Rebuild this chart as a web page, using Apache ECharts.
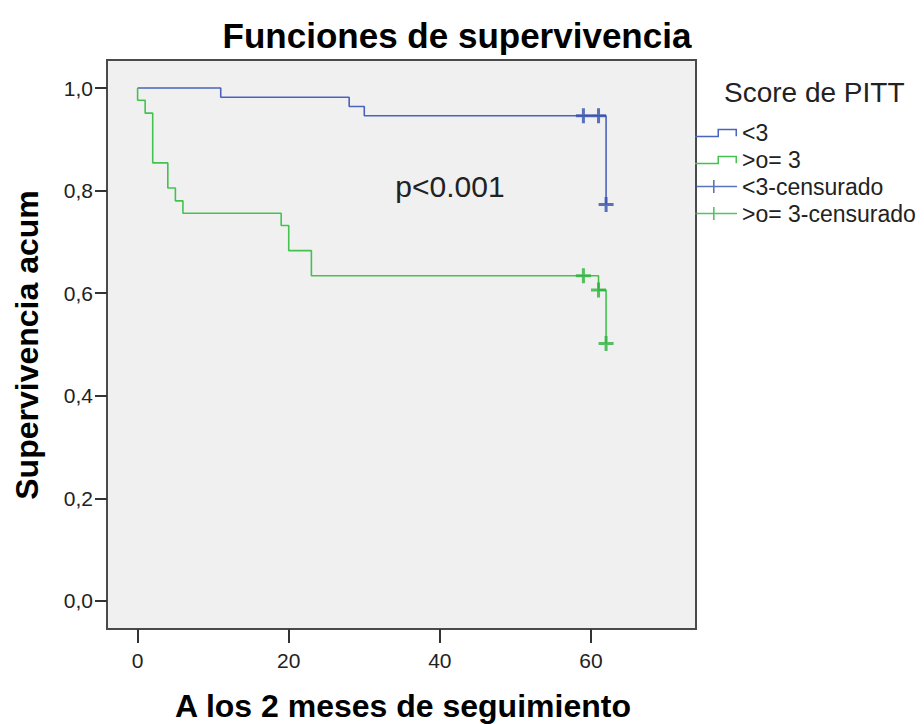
<!DOCTYPE html>
<html>
<head>
<meta charset="utf-8">
<script src="https://cdn.jsdelivr.net/npm/echarts@6/dist/echarts.min.js"></script>
<style>html,body{margin:0;padding:0;background:#fff;}#c{width:924px;height:724px;}</style>
</head>
<body>
<div id="c"></div>
<script>
// Score de PITT < 3
const timesLow = [0, 11, 28, 30, 62];
const survLow = [1.0, 0.982, 0.964, 0.946, 0.773];
const censTimesLow = [59, 61, 62];
const censSurvLow = [0.946, 0.946, 0.773];
// Score de PITT >= 3
const timesHigh = [0, 0, 1, 2, 4, 5, 6, 19, 20, 23, 61, 62];
const survHigh = [1.0, 0.976, 0.951, 0.854, 0.805, 0.780, 0.756, 0.732, 0.683, 0.634, 0.606, 0.502];
const censTimesHigh = [59, 61, 62];
const censSurvHigh = [0.634, 0.606, 0.502];

const seriesNames = ['<3', '>o= 3', '<3-censurado', '>o= 3-censurado'];
const xTicks = [0, 20, 40, 60];
const yTicks = [0, 0.2, 0.4, 0.6, 0.8, 1.0];
const yTickLabels = ['0,0', '0,2', '0,4', '0,6', '0,8', '1,0'];

const zip = (a, b) => a.map((v, i) => [v, b[i]]);

const BLUE = '#4a63bd', BLUE_D = '#3350ad';
const GREEN = '#44c250', GREEN_D = '#2db23c';
const FONT = 'Liberation Sans, Arial, sans-serif';
const plusPath = 'path://M6,0h3v15h-3z M0,6h15v3h-15z';
const stepIcon = 'path://M0,0L0.01,0Z M44,14L44.01,14Z M2,10.25h24v1.5h-24z M24.5,3.25h1.5v8.5h-1.5z M24.5,3.25h19.5v1.5h-19.5z M42.5,3.25h1.5v7.5h-1.5z';
const censIcon = 'path://M0,0L0.01,0Z M44,14L44.01,14Z M2,6.25h42v1.5h-42z M20,0.5h1.6v13h-1.6z';

const chart = echarts.init(document.getElementById('c'), null, {renderer: 'svg'});
chart.setOption({
  animation: false,
  backgroundColor: '#ffffff',
  grid: {left: 107, right: 228, top: 60, bottom: 95, show: true,
         backgroundColor: '#f0f0f0', borderColor: '#4a4a4a', borderWidth: 2},
  xAxis: {type: 'value', min: -4.05, max: 73.9,
    axisLine: {show: false, onZero: false}, splitLine: {show: false},
    axisTick: {show: true, customValues: xTicks, length: 14, lineStyle: {color: '#333', width: 2}},
    axisLabel: {customValues: xTicks, margin: 21, fontSize: 21, color: '#222', fontFamily: FONT}},
  yAxis: {type: 'value', min: -0.0546, max: 1.0546,
    axisLine: {show: false, onZero: false}, splitLine: {show: false},
    axisTick: {show: true, customValues: yTicks, length: 12, lineStyle: {color: '#333', width: 2}},
    axisLabel: {customValues: yTicks, margin: 14, fontSize: 21, color: '#222', fontFamily: FONT,
      formatter: v => yTickLabels[yTicks.findIndex(t => Math.abs(t - v) < 1e-6)]}},
  legend: {orient: 'vertical', left: 693, top: 121, padding: 0, itemGap: 4,
    itemWidth: 44, itemHeight: 14, selectedMode: false,
    itemStyle: {borderWidth: 0},
    textStyle: {fontSize: 23, color: '#222', fontFamily: FONT, lineHeight: 23},
    data: [
      {name: seriesNames[0], icon: stepIcon},
      {name: seriesNames[1], icon: stepIcon},
      {name: seriesNames[2], icon: censIcon},
      {name: seriesNames[3], icon: censIcon}
    ]},
  graphic: [
    {type: 'text', x: 457, y: 35, style: {text: 'Funciones de supervivencia', font: 'bold 35px Liberation Sans, Arial, sans-serif', fill: '#000', align: 'center', verticalAlign: 'middle'}},
    {type: 'text', x: 27, y: 345, rotation: Math.PI / 2, style: {text: 'Supervivencia acum', font: 'bold 32px Liberation Sans, Arial, sans-serif', fill: '#000', align: 'center', verticalAlign: 'middle'}},
    {type: 'text', x: 403, y: 706, style: {text: 'A los 2 meses de seguimiento', font: 'bold 32px Liberation Sans, Arial, sans-serif', fill: '#000', align: 'center', verticalAlign: 'middle'}},
    {type: 'text', x: 724, y: 92, style: {text: 'Score de PITT', font: '28px Liberation Sans, Arial, sans-serif', fill: '#222', align: 'left', verticalAlign: 'middle'}},
    {type: 'text', x: 450, y: 186, style: {text: 'p<0.001', font: '30px Liberation Sans, Arial, sans-serif', fill: '#222', align: 'center', verticalAlign: 'middle'}}
  ],
  series: [
    {name: seriesNames[0], type: 'line', step: 'end', symbol: 'none', color: BLUE,
     lineStyle: {width: 1.6, color: BLUE}, data: zip(timesLow, survLow), z: 2},
    {name: seriesNames[1], type: 'line', step: 'end', symbol: 'none', color: GREEN,
     lineStyle: {width: 1.6, color: GREEN}, data: zip(timesHigh, survHigh), z: 2},
    {name: seriesNames[2], type: 'scatter', symbol: plusPath, symbolSize: 15, color: BLUE_D,
     itemStyle: {color: BLUE_D}, data: zip(censTimesLow, censSurvLow), z: 3},
    {name: seriesNames[3], type: 'scatter', symbol: plusPath, symbolSize: 15, color: GREEN_D,
     itemStyle: {color: GREEN_D}, data: zip(censTimesHigh, censSurvHigh), z: 3}
  ]
});
</script>
</body>
</html>
